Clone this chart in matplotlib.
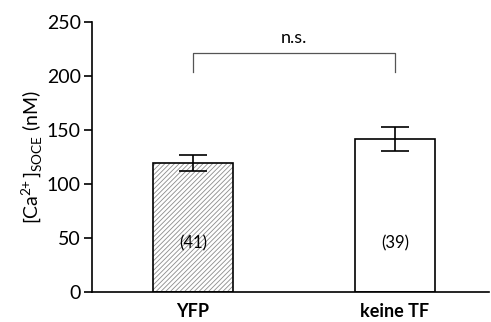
import numpy as np
import matplotlib.pyplot as plt

# data
groups = ['YFP', 'keine TF']
means = [119.5, 141.5]
sems = [7.5, 11.0]
n_cells = ['(41)', '(39)']

plt.rcParams['font.family'] = ['Lato', 'DejaVu Sans']
plt.rcParams['hatch.linewidth'] = 0.6

fig = plt.figure(figsize=(4.91, 3.22), dpi=100)
ax = fig.add_axes([92 / 491, 30 / 322, 397 / 491, 270 / 322])

x = np.arange(len(groups))
# hatch layer for YFP in grey, then black outlines on top
ax.bar(x[:1], means[:1], width=0.4, color='white', edgecolor='#8c8c8c',
       linewidth=0, hatch='///////')
ax.bar(x, means, width=0.4, color='none', edgecolor='black', linewidth=1.2)
ax.errorbar(x, means, yerr=sems, fmt='none', ecolor='black', elinewidth=1.2,
            capsize=10, capthick=1.2)

for xi, lab in zip(x, n_cells):
    ax.text(xi, 45, lab, ha='center', va='center', fontsize=12)

# significance bracket
ax.plot([0, 0, 1, 1], [204, 221, 221, 204], color='#555555', lw=0.9)
ax.text(0.5, 228, 'n.s.', ha='center', va='bottom', fontsize=13)

ax.set_xlim(-0.5, 1.465)
ax.set_ylim(0, 250)
ax.set_yticks([0, 50, 100, 150, 200, 250])
ax.set_xticks(x)
ax.set_xticklabels(groups, fontweight='bold', fontsize=13)
ax.tick_params(axis='x', length=0, pad=8)
ax.tick_params(axis='y', labelsize=14, width=1.2, length=6, pad=2)
ax.set_ylabel('[Ca$^{\\mathregular{2\\!\\!+}}$]$_{\\mathregular{SOCE}}$ (nM)', fontsize=14,
              labelpad=2)
ax.spines['top'].set_visible(False)
ax.spines['right'].set_visible(False)
ax.spines['left'].set_linewidth(1.2)
ax.spines['bottom'].set_linewidth(1.2)

fig.savefig('out.png', dpi=100)
